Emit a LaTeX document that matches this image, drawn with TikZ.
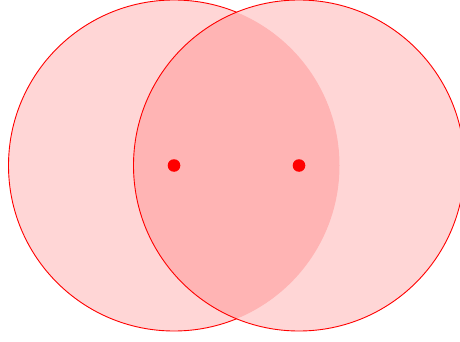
\documentclass[tikz,border=0pt]{standalone}
\begin{document}
\begin{tikzpicture}[x=1pt,y=-1pt,
  discfill/.style={fill=red, fill opacity=0.16},
  discline/.style={draw=red, line width=0.9pt},
  centre/.style={fill=red}]
\useasboundingbox (0,0) rectangle (460,342);
\clip (0,0) rectangle (460,342);
\coordinate (A) at (174,165.5);
\coordinate (B) at (299,165.5);
\fill[discfill] (A) circle[radius=165.5];
\fill[discfill] (B) circle[radius=165.5];
\begin{scope}[even odd rule]
  \clip (-10,-10) rectangle (480,360) (B) circle[radius=165.5];
  \draw[discline] (A) circle[radius=165.5];
\end{scope}
\draw[discline] (B) circle[radius=165.5];
\fill[centre] (A) circle[radius=6.3];
\fill[centre] (B) circle[radius=6.3];
\end{tikzpicture}
\end{document}
